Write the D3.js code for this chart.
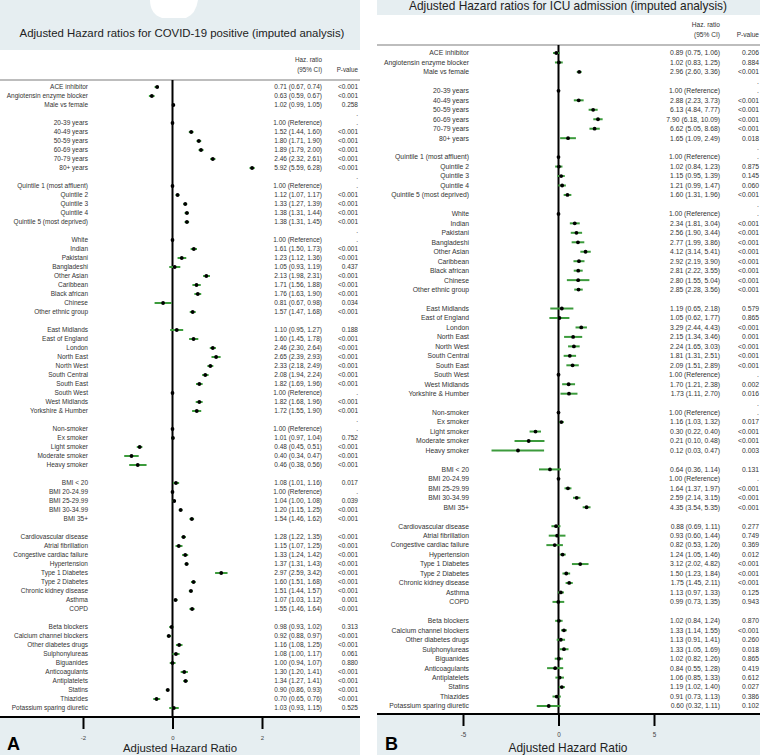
<!DOCTYPE html>
<html>
<head>
<meta charset="utf-8">
<script src="https://cdn.jsdelivr.net/npm/d3@7"></script>
<style>
  body { margin: 0; background: #fff; }
  svg { display: block; font-family: "Liberation Sans", Arial, sans-serif; }
</style>
</head>
<body>
<svg id="chart" width="760" height="755"></svg>
<script>
// row labels, shared by both panels ("" = spacer row)
let labels = ["ACE inhibitor", "Angiotensin enzyme blocker", "Male vs female", "",
  "20-39 years", "40-49 years", "50-59 years", "60-69 years", "70-79 years", "80+ years", "",
  "Quintile 1 (most affluent)", "Quintile 2", "Quintile 3", "Quintile 4", "Quintile 5 (most deprived)", "",
  "White", "Indian", "Pakistani", "Bangladeshi", "Other Asian", "Caribbean", "Black african", "Chinese", "Other ethnic group", "",
  "East Midlands", "East of England", "London", "North East", "North West", "South Central", "South East", "South West", "West Midlands", "Yorkshire & Humber", "",
  "Non-smoker", "Ex smoker", "Light smoker", "Moderate smoker", "Heavy smoker", "",
  "BMI < 20", "BMI 20-24.99", "BMI 25-29.99", "BMI 30-34.99", "BMI 35+", "",
  "Cardiovascular disease", "Atrial fibrillation", "Congestive cardiac failure", "Hypertension", "Type 1 Diabetes", "Type 2 Diabetes", "Chronic kidney disease", "Asthma", "COPD", "",
  "Beta blockers", "Calcium channel blockers", "Other diabetes drugs", "Sulphonylureas", "Biguanides", "Anticoagulants", "Antiplatelets", "Statins", "Thiazides", "Potassium sparing diuretic"];

// panel A: COVID-19 positive
let hrA = [0.71, 0.63, 1.02, null, 1.00, 1.52, 1.80, 1.89, 2.46, 5.92, null, 1.00, 1.12, 1.33, 1.38, 1.38, null,
  1.00, 1.61, 1.23, 1.05, 2.13, 1.71, 1.76, 0.81, 1.57, null, 1.10, 1.60, 2.46, 2.65, 2.33, 2.08, 1.82, 1.00, 1.82, 1.72, null,
  1.00, 1.01, 0.48, 0.40, 0.46, null, 1.08, 1.00, 1.04, 1.20, 1.54, null,
  1.28, 1.15, 1.33, 1.37, 2.97, 1.60, 1.51, 1.07, 1.55, null, 0.98, 0.92, 1.16, 1.08, 1.00, 1.30, 1.34, 0.90, 0.70, 1.03];
let loA = [0.67, 0.59, 0.99, null, null, 1.44, 1.71, 1.79, 2.32, 5.59, null, null, 1.07, 1.27, 1.31, 1.31, null,
  null, 1.50, 1.12, 0.93, 1.98, 1.56, 1.63, 0.67, 1.47, null, 0.95, 1.45, 2.30, 2.39, 2.18, 1.94, 1.69, null, 1.68, 1.55, null,
  null, 0.97, 0.45, 0.34, 0.38, null, 1.01, null, 1.00, 1.15, 1.46, null,
  1.22, 1.07, 1.24, 1.31, 2.59, 1.51, 1.44, 1.03, 1.46, null, 0.93, 0.88, 1.08, 1.00, 0.94, 1.20, 1.27, 0.86, 0.65, 0.93];
let hiA = [0.74, 0.67, 1.05, null, null, 1.60, 1.90, 2.00, 2.61, 6.28, null, null, 1.17, 1.39, 1.44, 1.45, null,
  null, 1.73, 1.36, 1.19, 2.31, 1.88, 1.90, 0.98, 1.68, null, 1.27, 1.78, 2.64, 2.93, 2.49, 2.24, 1.96, null, 1.96, 1.90, null,
  null, 1.04, 0.51, 0.47, 0.56, null, 1.16, null, 1.08, 1.25, 1.62, null,
  1.35, 1.25, 1.42, 1.43, 3.42, 1.68, 1.57, 1.12, 1.64, null, 1.02, 0.97, 1.25, 1.17, 1.07, 1.41, 1.41, 0.93, 0.76, 1.15];
let pA = ["<0.001", "<0.001", "0.258", ".", ".", "<0.001", "<0.001", "<0.001", "<0.001", "<0.001", ".",
  ".", "<0.001", "<0.001", "<0.001", "<0.001", ".",
  ".", "<0.001", "<0.001", "0.437", "<0.001", "<0.001", "<0.001", "0.034", "<0.001", "",
  "0.188", "<0.001", "<0.001", "<0.001", "<0.001", "<0.001", "<0.001", ".", "<0.001", "<0.001", ".",
  ".", "0.752", "<0.001", "<0.001", "<0.001", "",
  "0.017", ".", "0.039", "<0.001", "<0.001", "",
  "<0.001", "<0.001", "<0.001", "<0.001", "<0.001", "<0.001", "<0.001", "0.001", "<0.001", "",
  "0.313", "<0.001", "<0.001", "0.061", "0.880", "<0.001", "<0.001", "<0.001", "<0.001", "0.525"];

// panel B: ICU admission
let hrB = [0.89, 1.02, 2.96, null, 1.00, 2.88, 6.13, 7.90, 6.62, 1.65, null, 1.00, 1.02, 1.15, 1.21, 1.60, null,
  1.00, 2.34, 2.56, 2.77, 4.12, 2.92, 2.81, 2.80, 2.85, null, 1.19, 1.05, 3.29, 2.15, 2.24, 1.81, 2.09, 1.00, 1.70, 1.73, null,
  1.00, 1.16, 0.30, 0.21, 0.12, null, 0.64, 1.00, 1.64, 2.59, 4.35, null,
  0.88, 0.93, 0.82, 1.24, 3.12, 1.50, 1.75, 1.13, 0.99, null, 1.02, 1.33, 1.13, 1.33, 1.02, 0.84, 1.06, 1.19, 0.91, 0.60];
let loB = [0.75, 0.83, 2.60, null, null, 2.23, 4.84, 6.18, 5.05, 1.09, null, null, 0.84, 0.95, 0.99, 1.31, null,
  null, 1.81, 1.90, 1.99, 3.14, 2.19, 2.22, 1.55, 2.28, null, 0.65, 0.62, 2.44, 1.34, 1.65, 1.31, 1.51, null, 1.21, 1.11, null,
  null, 1.03, 0.22, 0.10, 0.03, null, 0.36, null, 1.37, 2.14, 3.54, null,
  0.69, 0.60, 0.53, 1.05, 2.02, 1.23, 1.45, 0.97, 0.73, null, 0.84, 1.14, 0.91, 1.05, 0.82, 0.55, 0.85, 1.02, 0.73, 0.32];
let hiB = [1.06, 1.25, 3.36, null, null, 3.73, 7.77, 10.09, 8.68, 2.49, null, null, 1.23, 1.39, 1.47, 1.96, null,
  null, 3.04, 3.44, 3.86, 5.41, 3.90, 3.55, 5.04, 3.56, null, 2.18, 1.77, 4.43, 3.46, 3.03, 2.51, 2.89, null, 2.38, 2.70, null,
  null, 1.32, 0.40, 0.48, 0.47, null, 1.14, null, 1.97, 3.15, 5.35, null,
  1.11, 1.44, 1.26, 1.46, 4.82, 1.84, 2.11, 1.33, 1.35, null, 1.24, 1.55, 1.41, 1.69, 1.26, 1.28, 1.33, 1.40, 1.13, 1.11];
let pB = ["0.206", "0.884", "<0.001", ".", ".", "<0.001", "<0.001", "<0.001", "<0.001", "0.018", ".",
  ".", "0.875", "0.145", "0.060", "<0.001", ".",
  ".", "<0.001", "<0.001", "<0.001", "<0.001", "<0.001", "<0.001", "<0.001", "<0.001", "",
  "0.579", "0.865", "<0.001", "0.001", "<0.001", "<0.001", "<0.001", ".", "0.002", "0.016", ".",
  ".", "0.017", "<0.001", "<0.001", "0.003", "",
  "0.131", ".", "<0.001", "<0.001", "<0.001", "",
  "0.277", "0.749", "0.369", "0.012", "<0.001", "<0.001", "<0.001", "0.125", "0.943", "",
  "0.870", "<0.001", "0.260", "0.018", "0.865", "0.419", "0.612", "0.027", "0.386", "0.102"];

let ticksA = [-2, 0, 2];
let ticksB = [-5, 0, 5];

let bg = "#e6eef1";
let ciColor = "#3c9b3c";
let svg = d3.select("#chart");

function fmt(v) { return v.toFixed(2); }

function drawPanel(c, hr, lo, hi, p, ticks) {
  let g = svg.append("g");

  // background bands
  g.append("rect").attr("x", c.left).attr("y", 0).attr("width", c.right - c.left).attr("height", 755).attr("fill", bg);
  g.append("rect").attr("x", c.left).attr("y", c.plotTop).attr("width", c.right - c.left)
    .attr("height", c.axisY - c.plotTop).attr("fill", "#fff");

  g.append("text").attr("x", c.titleX).attr("y", c.titleY).attr("text-anchor", "middle")
    .attr("font-size", c.titleSize).attr("fill", "#222").text(c.title);

  // column headers
  let hdr = g.append("g").attr("font-size", c.font - 0.2).attr("fill", "#333").attr("text-anchor", "end");
  hdr.append("text").attr("x", c.hrRight).attr("y", c.hdrY).text("Haz. ratio");
  hdr.append("text").attr("x", c.hrRight).attr("y", c.hdrY + 9.5).text("(95% CI)");
  hdr.append("text").attr("x", c.pRight).attr("y", c.hdrY + 9.5).text("P-value");

  g.append("line").attr("x1", c.left).attr("x2", c.right).attr("y1", c.sepY).attr("y2", c.sepY)
    .attr("stroke", "#bdbdbd").attr("stroke-width", 2);

  let x = d3.scaleLinear().domain([ticks[0], ticks[2]]).range(c.xRange);
  let y = d3.scalePoint().domain(d3.range(labels.length)).range([c.rowTop, c.rowBottom]);

  // zero line
  g.append("line").attr("x1", x(0)).attr("x2", x(0)).attr("y1", c.sepY).attr("y2", c.axisY)
    .attr("stroke", "#000").attr("stroke-width", 2);

  let rows = d3.range(labels.length);

  let txt = g.append("g").attr("font-size", c.font).attr("fill", "#333");
  txt.selectAll(".lab").data(rows).join("text")
    .attr("x", c.labelRight).attr("y", i => y(i)).attr("dy", "0.35em").attr("text-anchor", "end")
    .text(i => labels[i]);
  txt.selectAll(".hr").data(rows.filter(i => hr[i] != null)).join("text")
    .attr("x", c.hrRight).attr("y", i => y(i)).attr("dy", "0.35em").attr("text-anchor", "end")
    .text(i => lo[i] == null ? fmt(hr[i]) + " (Reference)" : fmt(hr[i]) + " (" + fmt(lo[i]) + ", " + fmt(hi[i]) + ")");
  txt.selectAll(".pv").data(rows).join("text")
    .attr("x", c.pRight).attr("y", i => y(i)).attr("dy", "0.35em").attr("text-anchor", "end")
    .text(i => p[i]);

  // CI bars and point estimates on log scale
  g.selectAll(".ci").data(rows.filter(i => lo[i] != null)).join("line")
    .attr("x1", i => x(Math.log(lo[i]))).attr("x2", i => x(Math.log(hi[i])))
    .attr("y1", i => y(i)).attr("y2", i => y(i))
    .attr("stroke", ciColor).attr("stroke-width", 2);
  g.selectAll(".pt").data(rows.filter(i => hr[i] != null)).join("circle")
    .attr("cx", i => x(Math.log(hr[i]))).attr("cy", i => y(i)).attr("r", 1.9).attr("fill", "#000");

  // x axis
  let ax = g.append("g").attr("transform", "translate(0," + c.axisY + ")")
    .call(d3.axisBottom(x).tickValues(ticks).tickSize(12).tickPadding(7).tickFormat(d => String(d)));
  ax.select(".domain").remove();
  ax.selectAll(".tick line").attr("stroke", "#000").attr("stroke-width", 2);
  ax.selectAll(".tick text").attr("font-size", c.font - 0.5).attr("fill", "#444")
    .attr("font-family", "Liberation Sans, Arial, sans-serif");
  g.append("line").attr("x1", c.left).attr("x2", c.right).attr("y1", c.axisY).attr("y2", c.axisY)
    .attr("stroke", "#000").attr("stroke-width", 2);

  g.append("text").attr("x", c.axisTitleX).attr("y", c.axisTitleY).attr("text-anchor", "middle")
    .attr("font-size", c.titleSize).attr("fill", "#222").text("Adjusted Hazard Ratio");
  g.append("text").attr("x", c.letterX).attr("y", c.letterY).attr("font-size", 18).attr("font-weight", "bold")
    .attr("fill", "#000").text(c.letter);
  return g;
}

let gA = drawPanel({
  left: 0, right: 360, plotTop: 50, axisY: 717, sepY: 80,
  title: "Adjusted Hazard ratios for COVID-19 positive (imputed analysis)", titleX: 182, titleY: 37, titleSize: 11.4,
  hdrY: 62, font: 6.5, labelRight: 88, hrRight: 322, pRight: 358,
  rowTop: 87, rowBottom: 708, xRange: [83, 262],
  axisTitleX: 180, axisTitleY: 752, letter: "A", letterX: 7, letterY: 750
}, hrA, loA, hiA, pA, ticksA);

// scan artefact at the top of panel A
gA.append("path").attr("d", "M150,0 L198,0 Q196,14 186,18 L162,18 Q150,14 150,0 Z").attr("fill", "#fff");

drawPanel({
  left: 377, right: 760, plotTop: 15, axisY: 714, sepY: 45,
  title: "Adjusted Hazard ratios for ICU admission (imputed analysis)", titleX: 568, titleY: 10, titleSize: 11.9,
  hdrY: 27, font: 6.8, labelRight: 469, hrRight: 720, pRight: 759,
  rowTop: 53, rowBottom: 706, xRange: [463, 654],
  axisTitleX: 568, axisTitleY: 752, letter: "B", letterX: 385, letterY: 750
}, hrB, loB, hiB, pB, ticksB);
</script>
</body>
</html>
